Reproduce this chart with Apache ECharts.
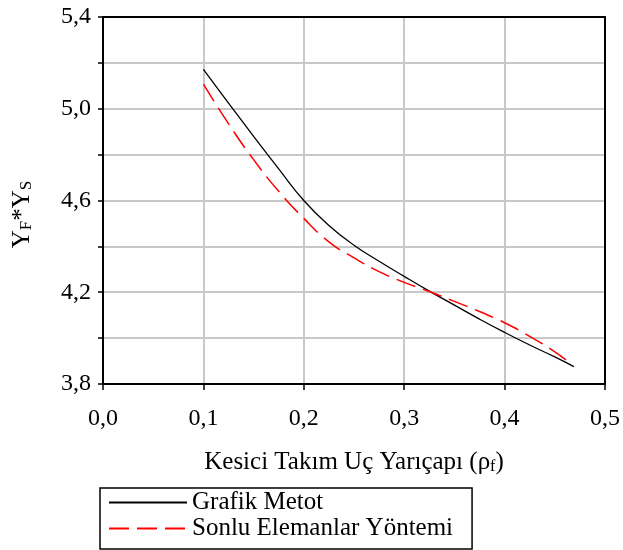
<!DOCTYPE html>
<html><head><meta charset="utf-8">
<script src="https://cdn.jsdelivr.net/npm/echarts@6/dist/echarts.min.js"></script>
<style>html,body{margin:0;padding:0;background:#fff}#c{width:623px;height:550px}</style>
</head><body><div id="c"></div>
<script>
// Data
const xGrafik = [0.10, 0.125, 0.15, 0.175, 0.20, 0.225, 0.25, 0.275, 0.30, 0.325, 0.35, 0.375, 0.40, 0.425, 0.45, 0.469];
const yGrafik = [5.172, 5.025, 4.880, 4.738, 4.60, 4.491, 4.405, 4.335, 4.269, 4.205, 4.144, 4.083, 4.025, 3.970, 3.918, 3.876];
const xSonlu = [0.10, 0.125, 0.15, 0.175, 0.20, 0.225, 0.25, 0.275, 0.30, 0.325, 0.35, 0.375, 0.40, 0.425, 0.45, 0.4635];
const ySonlu = [5.107, 4.935, 4.778, 4.64, 4.522, 4.42, 4.35, 4.29, 4.243, 4.203, 4.16, 4.116, 4.067, 4.008, 3.940, 3.897];
const seriesNames = ['Grafik Metot', 'Sonlu Elemanlar Yöntemi'];
const xTitle = '{b|Kesici Takım Uç Yarıçapı (ρ}{s|f}{b|)}';
const yTitle = '{b|Y}{s|F}{b|*Y}{s|S}';

const F = '"Liberation Serif", "Times New Roman", serif';
const fmt = v => v.toFixed(1).replace('.', ',');

const chart = echarts.init(document.getElementById('c'), null, {renderer: 'canvas'});
chart.setOption({
  animation: false,
  backgroundColor: '#fff',
  grid: {left: 103, right: 18, top: 17, bottom: 166, containLabel: false},
  xAxis: [{
    type: 'value', min: 0, max: 0.5, interval: 0.1, position: 'bottom', z: 3,
    axisLine: {show: true, onZero: false, lineStyle: {color: '#000', width: 2}},
    axisTick: {show: true, length: 6, lineStyle: {color: '#000', width: 1.5}},
    axisLabel: {margin: 23, fontSize: 24, fontFamily: F, color: '#000', formatter: fmt},
    splitLine: {show: true, showMinLine: false, showMaxLine: false, lineStyle: {color: '#c8c8c8', width: 2}},
    name: xTitle, nameLocation: 'middle', nameGap: 66,
    nameTextStyle: {fontFamily: F, fontSize: 25, color: '#000',
      rich: {b: {fontFamily: F, fontSize: 25, color: '#000'}, s: {fontFamily: F, fontSize: 16, color: '#000', verticalAlign: 'bottom'}}}
  }, {
    type: 'value', min: 0, max: 0.5, interval: 0.1, position: 'top', z: 4,
    axisLine: {show: true, onZero: false, lineStyle: {color: '#000', width: 2}},
    axisTick: {show: false}, axisLabel: {show: false}, splitLine: {show: false}
  }],
  yAxis: [{
    type: 'value', min: 3.8, max: 5.4, interval: 0.2, position: 'left', z: 3,
    axisLine: {show: true, onZero: false, lineStyle: {color: '#000', width: 2}},
    axisTick: {show: true, length: 5, lineStyle: {color: '#000', width: 1.5}},
    axisLabel: {margin: 12, fontSize: 24, fontFamily: F, color: '#000',
      formatter: v => (Math.round(v * 10) % 4 === 2 ? fmt(v) : '')},
    splitLine: {show: true, showMinLine: false, showMaxLine: false, lineStyle: {color: '#c8c8c8', width: 2}},
    name: yTitle, nameLocation: 'middle', nameRotate: 90, nameGap: 68,
    nameTextStyle: {fontFamily: F, fontSize: 25, color: '#000', padding: [0, 28, 0, 0],
      rich: {b: {fontFamily: F, fontSize: 25, color: '#000'}, s: {fontFamily: F, fontSize: 17, color: '#000', verticalAlign: 'bottom'}}}
  }, {
    type: 'value', min: 3.8, max: 5.4, interval: 0.2, position: 'right', z: 4,
    axisLine: {show: true, onZero: false, lineStyle: {color: '#000', width: 2}},
    axisTick: {show: false}, axisLabel: {show: false}, splitLine: {show: false}
  }],
  legend: {
    left: 100, top: 488, orient: 'vertical', itemWidth: 78, itemHeight: 14, itemGap: 1,
    padding: [2, 19, 8, 8], borderColor: '#000', borderWidth: 1.5, backgroundColor: '#fff',
    itemStyle: {opacity: 0, borderWidth: 0},
    textStyle: {fontFamily: F, fontSize: 25, color: '#000'},
    data: seriesNames
  },
  series: [{
    name: seriesNames[0], type: 'line', smooth: true, symbol: 'none',
    data: xGrafik.map((x, i) => [x, yGrafik[i]]),
    lineStyle: {color: '#000', width: 1.3}, itemStyle: {color: '#000'}
  }, {
    name: seriesNames[1], type: 'line', smooth: true, symbol: 'none',
    data: xSonlu.map((x, i) => [x, ySonlu[i]]),
    lineStyle: {color: '#ff0000', width: 1.5, type: [20, 8]}, itemStyle: {color: '#ff0000'}
  }]
});
</script></body></html>
